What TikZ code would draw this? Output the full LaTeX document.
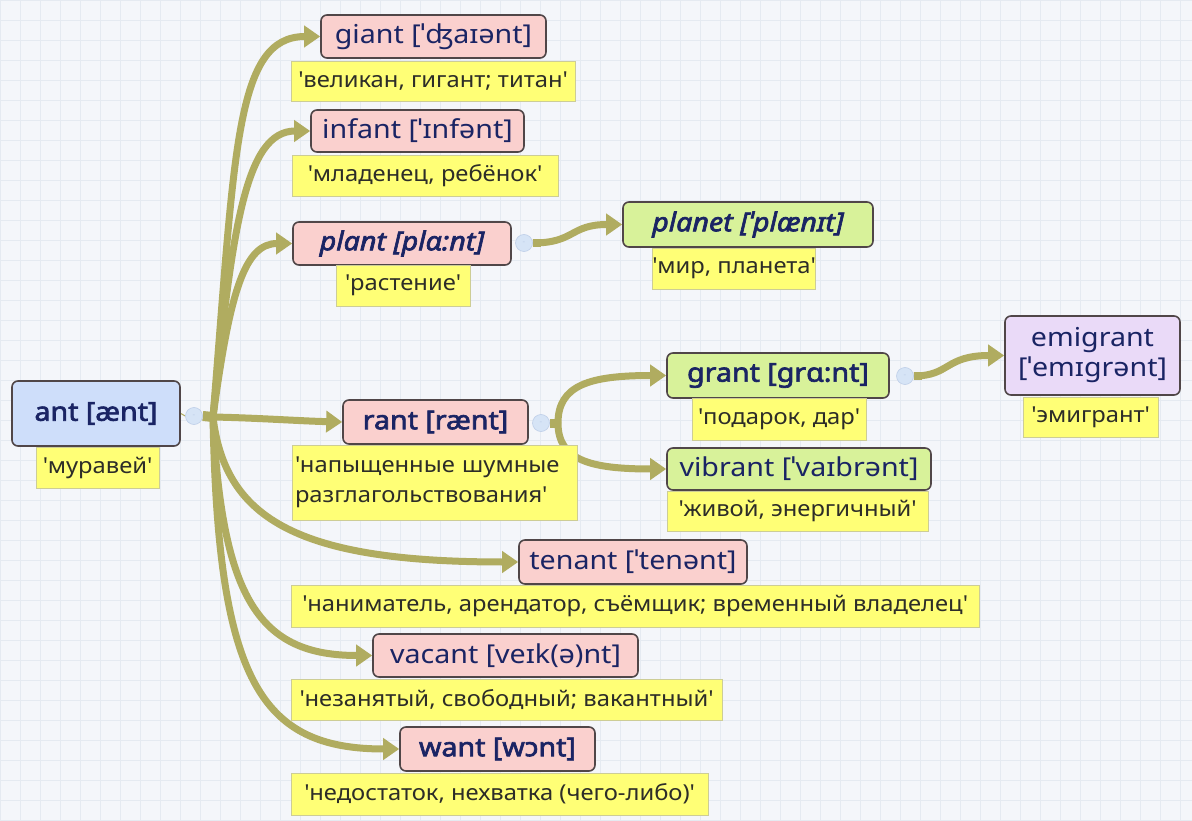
\documentclass[tikz,border=0pt]{standalone}
\usepackage{fontspec}
\setmainfont{Noto Sans}
\newfontfamily\headfont{Noto Sans}[FakeStretch=1.1,
  BoldFont={Noto Sans}, BoldFeatures={FakeBold=2.5},
  BoldItalicFont={Noto Sans Italic}, BoldItalicFeatures={FakeBold=2.5}]
\newfontfamily\glossfont{Noto Sans}[FakeStretch=1.08]
\usetikzlibrary{arrows.meta}

\definecolor{paper}{RGB}{244,246,250}
\definecolor{gridc}{RGB}{229,234,241}
\definecolor{olive}{RGB}{176,172,96}
\definecolor{boxline}{RGB}{80,70,72}
\definecolor{navy}{RGB}{26,36,100}
\definecolor{pinkfill}{RGB}{250,208,206}
\definecolor{greenfill}{RGB}{216,242,154}
\definecolor{bluefill}{RGB}{206,222,250}
\definecolor{lavfill}{RGB}{234,218,248}
\definecolor{glossfill}{RGB}{255,255,118}
\definecolor{glossline}{RGB}{205,205,150}
\definecolor{glosstext}{RGB}{45,45,40}
\definecolor{knobfill}{RGB}{214,228,246}
\definecolor{knobline}{RGB}{190,206,232}

\newcommand\tick{\textquotesingle}

\pgfdeclarelayer{paperlayer}
\pgfdeclarelayer{wires}
\pgfsetlayers{paperlayer,wires,main}

\tikzset{
  word/.style={draw=boxline, line width=1.6pt, rounded corners=6pt, inner sep=0pt,
    text=navy, font=\headfont\fontsize{26}{30}\selectfont},
  pinkbox/.style={word, fill=pinkfill},
  greenbox/.style={word, fill=greenfill},
  bluebox/.style={word, fill=bluefill},
  lavbox/.style={word, fill=lavfill},
  strong/.style={font=\headfont\fontsize{26}{30}\selectfont\bfseries},
  strongit/.style={font=\headfont\fontsize{26}{30}\selectfont\bfseries\itshape},
  gloss/.style={draw=glossline, line width=0.8pt, fill=glossfill, inner sep=0pt,
    text=glosstext, font=\glossfont\fontsize{22}{30}\selectfont},
  wire/.style={draw=olive, line width=7pt, -{Triangle[length=16pt,width=21pt]}},
  knob/.style={circle, minimum size=17pt, inner sep=0pt, fill=knobfill, draw=knobline,
    line width=0.6pt, text=knobline, font=\fontsize{8}{8}\selectfont}
}

\begin{document}
\begin{tikzpicture}[x=1pt,y=-1pt]
\useasboundingbox (0,0) rectangle (1192,821);

\begin{pgfonlayer}{paperlayer}
  \fill[paper] (0,0) rectangle (1192,821);
  \draw[gridc, line width=0.6pt, step=20pt] (0,0) grid (1192,821);
\end{pgfonlayer}

% root word
\node[bluebox, strong, minimum width=168, minimum height=65] (ant) at (96,413.5) {ant [ænt]};
\node[gloss, minimum width=123, minimum height=41] (antg) at (97.5,467.5) {\tick муравей\tick};
\node[knob] (ka) at (194,416) {-};
\coordinate (hub) at (213,417);

% first level
\node[pinkbox, minimum width=225, minimum height=43] (giant) at (433.5,36.5) {giant [ˈʤaɪənt]};
\node[gloss, minimum width=284, minimum height=40] (giantg) at (433,81) {\tick великан, гигант; титан\tick};

\node[pinkbox, minimum width=213, minimum height=42] (infant) at (417.5,131) {infant [ˈɪnfənt]};
\node[gloss, minimum width=266, minimum height=41] (infantg) at (425,175.5) {\tick младенец, ребёнок\tick};

\node[pinkbox, strongit, minimum width=218, minimum height=43] (plant) at (402,243.5) {plant [plɑ:nt]};
\node[gloss, minimum width=134, minimum height=41] (plantg) at (403,285.5) {\tick растение\tick};
\node[knob] (kp) at (524,243) {-};

\node[pinkbox, strong, minimum width=185, minimum height=44] (rant) at (435.5,422) {rant [rænt]};
\node[gloss, minimum width=285, minimum height=75, text width=279, align=left] (rantg) at (434.5,482.5) {\tick напыщенные шумные\\разглагольствования\tick};
\node[knob] (kr) at (541,423) {-};
\coordinate (fork) at (558,423);

\node[pinkbox, minimum width=228, minimum height=44] (tenant) at (633,562) {tenant [ˈtenənt]};
\node[gloss, minimum width=688, minimum height=42] (tenantg) at (635,606) {\tick наниматель, арендатор, съёмщик; временный владелец\tick};

\node[pinkbox, minimum width=265, minimum height=43] (vacant) at (505.5,655.5) {vacant [veɪk(ə)nt]};
\node[gloss, minimum width=431, minimum height=41] (vacantg) at (506.5,699.5) {\tick незанятый, свободный; вакантный\tick};

\node[pinkbox, strong, minimum width=195, minimum height=44] (want) at (497.5,749) {want [wɔnt]};
\node[gloss, minimum width=417, minimum height=42] (wantg) at (499.5,794) {\tick недостаток, нехватка (чего-либо)\tick};

% second level
\node[greenbox, strongit, minimum width=250, minimum height=45] (planet) at (748,224.5) {planet [ˈplænɪt]};
\node[gloss, minimum width=152, minimum height=41] (planetg) at (734,268.5) {\tick мир, планета\tick};

\node[greenbox, strong, minimum width=222, minimum height=45] (grant) at (778,375.5) {grant [grɑ:nt]};
\node[gloss, minimum width=174, minimum height=42] (grantg) at (779,419) {\tick подарок, дар\tick};
\node[knob] (kg) at (905,376) {-};

\node[greenbox, minimum width=264, minimum height=42] (vibrant) at (799,469) {vibrant [ˈvaɪbrənt]};
\node[gloss, minimum width=261, minimum height=40] (vibrantg) at (797.5,511) {\tick живой, энергичный\tick};

% third level
\node[lavbox, minimum width=175, minimum height=79, align=center] (emigrant) at (1092.5,355.5) {emigrant\\{}[ˈemɪgrənt]};
\node[gloss, minimum width=135, minimum height=40] (emigrantg) at (1090.5,417) {\tick эмигрант\tick};

% connectors
\def\trunk{{235,150}/{235,36.5}/giant, {232,230}/{245,131}/infant,
  {230,290}/{245,243.5}/plant, {260,418}/{300,421}/rant,
  {225,520}/{300,562}/tenant, {222,600}/{260,655.5}/vacant,
  {218,680}/{260,749}/want}
\begin{pgfonlayer}{wires}
  \draw[olive, line width=1pt] (ant.east) -- (ka.west);
  \draw[olive, line width=10pt] (ka.east) -- (hub);
  \foreach \ca/\cb/\t in \trunk {
    \draw[wire] (hub) .. controls (\ca) and (\cb) .. (\t.west);
  }

  \draw[olive, line width=8pt] (kp.east) -- ++(8,0);
  \draw[wire] (kp.east) .. controls (575,243) and (570,224.5) .. (planet.west);

  \draw[olive, line width=9pt] (kr.east) -- (fork);
  \draw[wire] (fork) .. controls (558,385) and (590,375.5) .. (grant.west);
  \draw[wire] (fork) .. controls (558,460) and (590,469) .. (vibrant.west);

  \draw[olive, line width=8pt] (kg.east) -- ++(8,0);
  \draw[wire] (kg.east) .. controls (950,376) and (945,355.5) .. (emigrant.west);
\end{pgfonlayer}
\end{tikzpicture}
\end{document}
